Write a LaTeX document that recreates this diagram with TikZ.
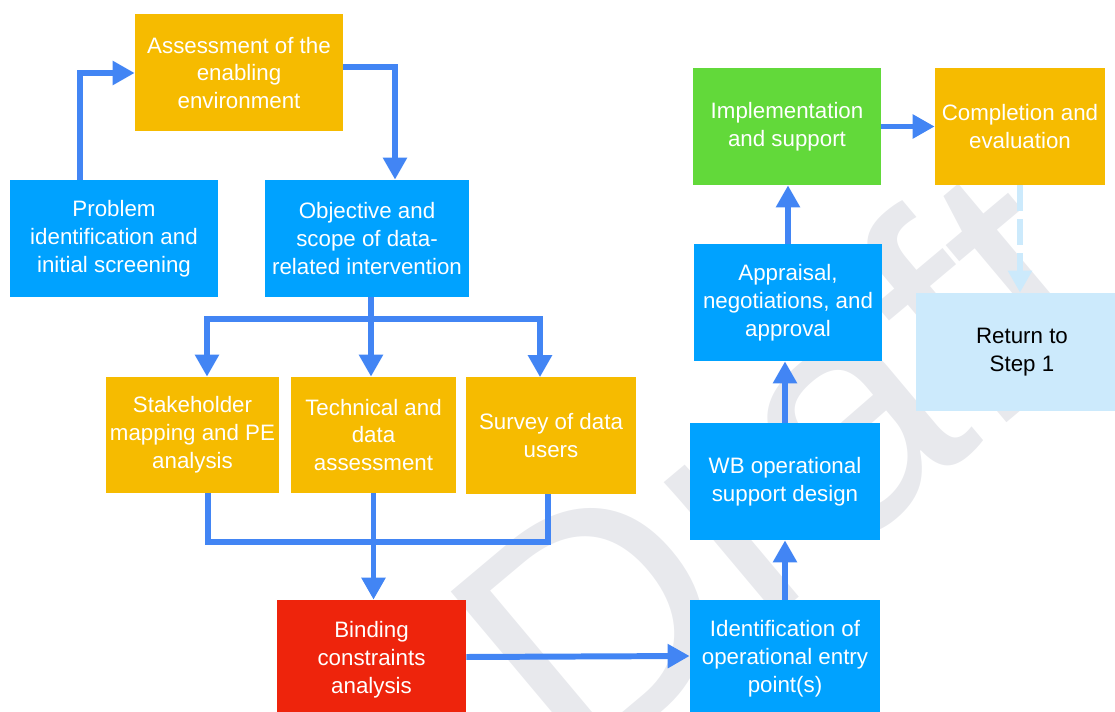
\documentclass[tikz,border=0pt]{standalone}
\usepackage{fontspec}
\setmainfont{Liberation Sans}
\usepackage{xcolor}
\usetikzlibrary{arrows.meta,positioning,calc}

\definecolor{stepblue}{RGB}{0,162,255}
\definecolor{steporange}{RGB}{246,187,0}
\definecolor{stepred}{RGB}{238,36,12}
\definecolor{stepgreen}{RGB}{98,217,58}
\definecolor{steplight}{RGB}{204,234,252}
\definecolor{arrowblue}{RGB}{66,133,244}
\definecolor{markgray}{RGB}{232,233,237}

\begin{document}
\begin{tikzpicture}[
  box/.style={rectangle, inner sep=0pt, minimum height=2.34cm, align=center, text=white, font=\fontsize{12.7}{15.9}\selectfont},
  arrow/.style={-{Triangle[length=4.4mm, width=4.6mm]}, line width=3.4pt, draw=arrowblue},
  line/.style={line width=3.4pt, draw=arrowblue},
  back/.style={-{Triangle[length=4.4mm, width=4.6mm]}, line width=3.8pt, draw=steplight, dash pattern=on 5.2mm off 1.6mm}
]
\useasboundingbox (0,0) rectangle (22.3,14.22);

% Watermark
\node[text=markgray, rotate=40, font=\fontsize{188}{188}\selectfont] (mark) at (15.5,4.95) {Draft};

% Scoping stage
\node[box, fill=steporange, minimum width=4.16cm] (assess) at (4.78, 12.76) {Assessment of the\\enabling\\environment};
\node[box, fill=stepblue, minimum width=4.16cm] (problem) at (2.28, 9.45) {Problem\\identification and\\initial screening};
\node[box, fill=stepblue, minimum width=4.08cm] (objective) at (7.34, 9.45) {Objective and\\scope of data-\\related intervention};

% Diagnostic stage
\node[box, fill=steporange, minimum width=3.46cm, minimum height=2.32cm] (stakeholder) at (3.85, 5.52) {Stakeholder\\mapping and PE\\analysis};
\node[box, fill=steporange, minimum width=3.3cm, minimum height=2.32cm] (technical) at (7.47, 5.52) {Technical and\\data\\assessment};
\node[box, fill=steporange, minimum width=3.4cm, minimum height=2.32cm] (survey) at (11.02, 5.51) {Survey of data\\users};
\node[box, fill=stepred, minimum width=3.78cm, minimum height=2.4cm] (binding) at (7.43, 1.02) {Binding\\constraints\\analysis};

% Operational stage
\node[box, fill=stepblue, minimum width=3.8cm, minimum height=2.36cm] (identification) at (15.7, 1.04) {Identification of\\operational entry\\point(s)};
\node[box, fill=stepblue, minimum width=3.8cm] (wb) at (15.7, 4.59) {WB operational\\support design};
\node[box, fill=stepblue, minimum width=3.76cm] (appraisal) at (15.76, 8.17) {Appraisal,\\negotiations, and\\approval};
\node[box, fill=stepgreen, minimum width=3.76cm] (implementation) at (15.74, 11.69) {Implementation\\and support};
\node[box, fill=steporange, minimum width=3.4cm] (completion) at (20.4, 11.69) {Completion and\\evaluation};
\node[box, fill=steplight, text=black, minimum width=4.24cm, minimum height=2.36cm] (return) at (20.44, 7.18) {Return to\\Step 1};

% Arrows
\draw[arrow] ([xshift=-0.68cm]problem.north) |- (assess.west);
\draw[arrow] ([yshift=0.12cm]assess.east) -| ([xshift=0.56cm]objective.north);

\draw[line] ([xshift=0.08cm]objective.south) -- ++(0,-0.44) coordinate (split);
\draw[arrow] (split) -| ([xshift=0.29cm]stakeholder.north);
\draw[arrow] (split) -- (split |- technical.north);
\draw[arrow] (split) -| ([xshift=-0.22cm]survey.north);

\coordinate (merge) at ($(technical.south)+(0,-0.98)$);
\draw[line] ([xshift=0.31cm]stakeholder.south) |- (merge) -| ([xshift=-0.06cm]survey.south);
\draw[line] (technical.south) -- (merge);
\draw[arrow] (merge) -- (merge |- binding.north);

\draw[arrow] ([yshift=0.06cm]binding.east) -- ([yshift=0.06cm]identification.west);
\draw[arrow] (identification.north) -- (wb.south);
\draw[arrow] (wb.north) -- (wb.north |- appraisal.south);
\draw[arrow] (appraisal.north) -- (appraisal.north |- implementation.south);
\draw[arrow] (implementation.east) -- (completion.west);
\draw[back] (completion.south) -- (completion.south |- return.north);

\end{tikzpicture}
\end{document}
